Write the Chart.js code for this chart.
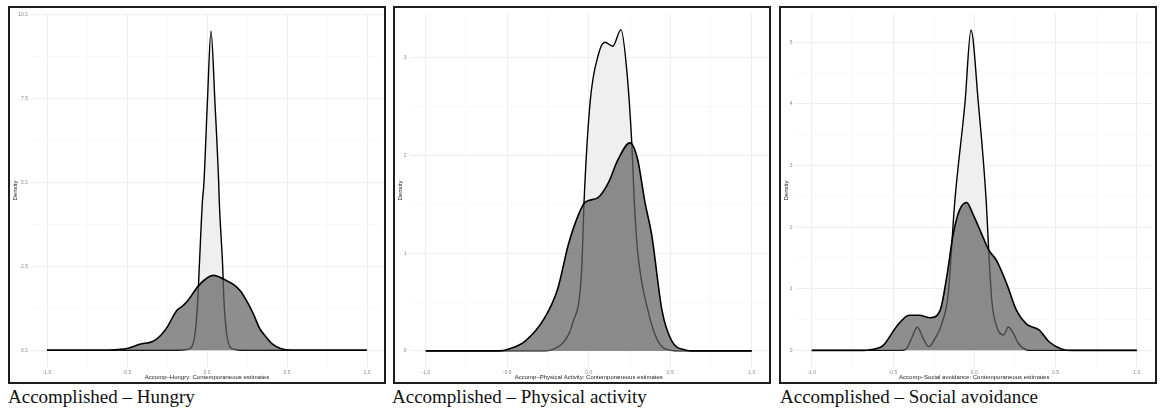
<!DOCTYPE html>
<html>
<head>
<meta charset="utf-8">
<script src="https://cdn.jsdelivr.net/npm/chart.js@4"></script>
<style>
  html, body { margin: 0; padding: 0; background: #ffffff; }
  body { width: 1160px; height: 416px; position: relative; overflow: hidden; }
  .panel { position: absolute; top: 6px; width: 378px; height: 378px; box-sizing: border-box;
           border: 2px solid #1e1e1e; background: #fff; }
  .panel canvas { display: block; }
  .caption { position: absolute; top: 387px; font-family: "Liberation Serif", "Times New Roman", serif;
             font-size: 19px; line-height: 19px; color: #111; white-space: nowrap; }
</style>
</head>
<body>
<div class="panel" style="left:8px"><canvas id="c1" width="374" height="374"></canvas></div>
<div class="panel" style="left:393px"><canvas id="c2" width="374" height="374"></canvas></div>
<div class="panel" style="left:779px"><canvas id="c3" width="374" height="374"></canvas></div>
<div class="caption" style="left:8px">Accomplished – Hungry</div>
<div class="caption" style="left:392px">Accomplished – Physical activity</div>
<div class="caption" style="left:780px">Accomplished – Social avoidance</div>
<script>
// ---------- shared x axis ----------
const xMajor = [-1, -0.5, 0, 0.5, 1];
const xMajorLabels = ['-1.0', '-0.5', '0.0', '0.5', '1.0'];
const xMinor = [-0.75, -0.25, 0.25, 0.75];

// ---------- Panel 1: Accomp–Hungry ----------
const hungryTitle = 'Accomp\u2013Hungry: Contemporaneous estimates';
const hungryLightX = [-1, -0.21, -0.16, -0.127, -0.096, -0.075, -0.058, -0.048, -0.029, -0.019, 0.002, 0.025, 0.05, 0.073, 0.077, 0.098, 0.106, 0.123, 0.144, 0.175, 0.21, 1];
const hungryLightY = [0, 0, 0.005, 0.02, 0.1, 0.49, 1.47, 2.5, 4.41, 5.0, 7.35, 9.51, 7.35, 5.0, 4.41, 2.5, 1.47, 0.49, 0.1, 0.02, 0, 0];
const hungryDarkX = [-1, -0.62, -0.56, -0.5, -0.42, -0.34, -0.29, -0.25, -0.19, -0.16, -0.13, -0.044, 0.04, 0.12, 0.165, 0.21, 0.248, 0.29, 0.33, 0.37, 0.41, 0.46, 0.53, 1];
const hungryDarkY = [0, 0, 0.02, 0.05, 0.18, 0.26, 0.44, 0.68, 1.18, 1.29, 1.42, 1.97, 2.23, 2.08, 1.96, 1.76, 1.47, 1.08, 0.64, 0.39, 0.18, 0.05, 0, 0];
const hungryYMajor = [0, 2.5, 5, 7.5, 10];
const hungryYLabels = ['0.0', '2.5', '5.0', '7.5', '10.0'];
const hungryYMinor = [1.25, 3.75, 6.25, 8.75];

// ---------- Panel 2: Accomp–Physical Activity ----------
const physTitle = 'Accomp\u2013Physical Activity: Contemporaneous estimates';
const physLightX = [-1, -0.27, -0.23, -0.15, -0.10, -0.043, -0.029, 0.008, 0.06, 0.10, 0.147, 0.198, 0.233, 0.264, 0.28, 0.30, 0.364, 0.425, 0.49, 0.55, 1];
const physLightY = [0, 0, 0.01, 0.1, 0.28, 0.85, 1.52, 2.54, 3.04, 3.16, 3.12, 3.29, 2.88, 2.13, 1.52, 1.02, 0.41, 0.10, 0.01, 0, 0];
const physDarkX = [-1, -0.55, -0.49, -0.39, -0.27, -0.19, -0.125, -0.064, -0.023, 0.057, 0.12, 0.18, 0.253, 0.30, 0.345, 0.386, 0.45, 0.51, 0.59, 0.65, 1];
const physDarkY = [0, 0, 0.02, 0.10, 0.34, 0.64, 1.09, 1.39, 1.52, 1.57, 1.72, 1.96, 2.13, 1.96, 1.52, 1.19, 0.41, 0.10, 0.01, 0, 0];
const physYMajor = [0, 1, 2, 3];
const physYLabels = ['0', '1', '2', '3'];
const physYMinor = [0.5, 1.5, 2.5];

// ---------- Panel 3: Accomp–Social avoidance ----------
const socTitle = 'Accomp\u2013Social avoidance: Contemporaneous estimates';
const socLightX = [-1, -0.45, -0.42, -0.385, -0.35, -0.315, -0.28, -0.24, -0.20, -0.16, -0.12, -0.057, -0.02, 0.025, 0.074, 0.087, 0.108, 0.139, 0.18, 0.21, 0.24, 0.27, 0.32, 0.35, 1];
const socLightY = [0, 0, 0.02, 0.2, 0.38, 0.2, 0.06, 0.2, 0.43, 0.92, 2.41, 4.02, 5.2, 4.02, 2.41, 1.72, 0.81, 0.38, 0.25, 0.38, 0.28, 0.12, 0.01, 0, 0];
const socDarkX = [-1, -0.68, -0.64, -0.56, -0.48, -0.40, -0.34, -0.27, -0.21, -0.17, -0.13, -0.09, -0.047, -0.006, 0.055, 0.087, 0.139, 0.20, 0.26, 0.32, 0.40, 0.46, 0.54, 0.6, 1];
const socDarkY = [0, 0, 0.01, 0.08, 0.38, 0.57, 0.57, 0.53, 0.65, 1.18, 1.88, 2.28, 2.40, 2.2, 1.83, 1.64, 1.45, 1.08, 0.65, 0.43, 0.33, 0.14, 0.02, 0, 0];
const socYMajor = [0, 1, 2, 3, 4, 5];
const socYLabels = ['0', '1', '2', '3', '4', '5'];
const socYMinor = [0.5, 1.5, 2.5, 3.5, 4.5];

const LIGHT_FILL = '#efefef';
const DARK_FILL = 'rgba(98,98,98,0.72)';
const TICK_COLOR = '#8a8a8a';
const MAJOR_GRID = '#ebebeb';
const MINOR_GRID = '#f5f5f5';

function pts(xs, ys) { return xs.map((x, i) => ({ x: x, y: ys[i] })); }

function makeChart(id, o) {
  const xAll = xMajor.concat(xMinor).sort((a, b) => a - b);
  const yAll = o.yMajor.concat(o.yMinor).sort((a, b) => a - b);
  new Chart(document.getElementById(id), {
    type: 'line',
    data: {
      datasets: [
        { data: pts(o.darkX, o.darkY), order: 0, fill: 'origin', backgroundColor: DARK_FILL,
          borderColor: '#000', borderWidth: 1.6, pointRadius: 0, cubicInterpolationMode: 'monotone' },
        { data: pts(o.lightX, o.lightY), order: 1, fill: 'origin', backgroundColor: LIGHT_FILL,
          borderColor: '#000', borderWidth: 1.4, pointRadius: 0, cubicInterpolationMode: 'monotone' }
      ]
    },
    options: {
      responsive: false, animation: false, events: [],
      layout: { padding: { top: 2, right: o.padRight, left: 0, bottom: 0 } },
      plugins: { legend: { display: false }, tooltip: { enabled: false } },
      scales: {
        x: {
          type: 'linear', min: -1.1, max: 1.1,
          afterBuildTicks: s => { s.ticks = xAll.map(v => ({ value: v })); },
          afterFit: s => { s.height = 15; },
          border: { display: false },
          grid: { drawTicks: false, color: c => (xMajor.includes(c.tick.value) ? MAJOR_GRID : MINOR_GRID),
                  lineWidth: c => (xMajor.includes(c.tick.value) ? 0.9 : 0.6) },
          ticks: { autoSkip: false, maxRotation: 0, padding: 3, color: TICK_COLOR,
                   font: { family: 'Liberation Sans', size: 5 },
                   callback: v => { const i = xMajor.indexOf(v); return i >= 0 ? xMajorLabels[i] : ''; } },
          title: { display: true, text: o.title, color: '#222', padding: { top: 0, bottom: 0.6 },
                   font: { family: 'Liberation Sans', size: 6 } }
        },
        y: {
          type: 'linear', min: o.yMin, max: o.yMax,
          afterBuildTicks: s => { s.ticks = yAll.map(v => ({ value: v })); },
          afterFit: s => { s.width = o.yWidth; },
          border: { display: false },
          grid: { drawTicks: false, color: c => (o.yMajor.includes(c.tick.value) ? MAJOR_GRID : MINOR_GRID),
                  lineWidth: c => (o.yMajor.includes(c.tick.value) ? 0.9 : 0.6) },
          ticks: { autoSkip: false, padding: 3, color: TICK_COLOR,
                   font: { family: 'Liberation Sans', size: 5 },
                   callback: v => { const i = o.yMajor.indexOf(v); return i >= 0 ? o.yLabels[i] : ''; } },
          title: { display: true, text: 'Density', color: '#222', padding: { top: 1.4, bottom: 0 },
                   font: { family: 'Liberation Sans', size: 6 } }
        }
      }
    }
  });
}

makeChart('c1', { title: hungryTitle, lightX: hungryLightX, lightY: hungryLightY, darkX: hungryDarkX, darkY: hungryDarkY,
  yMajor: hungryYMajor, yLabels: hungryYLabels, yMinor: hungryYMinor, yMin: -0.5, yMax: 10.02, yWidth: 21, padRight: 1 });
makeChart('c2', { title: physTitle, lightX: physLightX, lightY: physLightY, darkX: physDarkX, darkY: physDarkY,
  yMajor: physYMajor, yLabels: physYLabels, yMinor: physYMinor, yMin: -0.165, yMax: 3.45, yWidth: 14.5, padRight: 1 });
makeChart('c3', { title: socTitle, lightX: socLightX, lightY: socLightY, darkX: socDarkX, darkY: socDarkY,
  yMajor: socYMajor, yLabels: socYLabels, yMinor: socYMinor, yMin: -0.27, yMax: 5.46, yWidth: 14.5, padRight: 2 });
</script>
</body>
</html>
